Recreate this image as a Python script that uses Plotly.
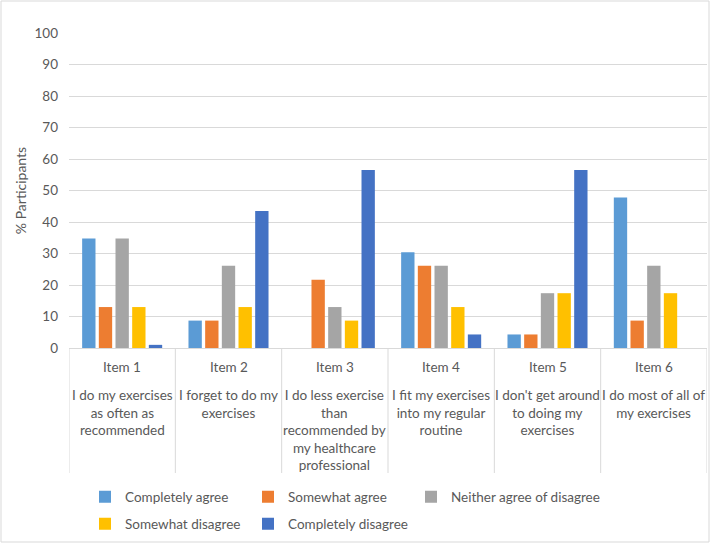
import plotly.graph_objects as go

# data (% participants)
items = ["Item 1", "Item 2", "Item 3", "Item 4", "Item 5", "Item 6"]
descriptions = [
    "I do my exercises<br>as often as<br>recommended",
    "I forget to do my<br>exercises",
    "I do less exercise<br>than<br>recommended by<br>my healthcare<br>professional",
    "I fit my exercises<br>into my regular<br>routine",
    "I don't get around<br>to doing my<br>exercises",
    "I do most of all of<br>my exercises",
]

completely_agree = [34.8, 8.7, 0, 30.4, 4.3, 47.8]
somewhat_agree = [13.0, 8.7, 21.7, 26.1, 4.3, 8.7]
neither = [34.8, 26.1, 13.0, 26.1, 17.4, 26.1]
somewhat_disagree = [13.0, 13.0, 8.7, 13.0, 17.4, 17.4]
completely_disagree = [1.0, 43.5, 56.5, 4.3, 56.5, 0]

series_names = ["Completely agree", "Somewhat agree", "Neither agree of disagree",
                "Somewhat disagree", "Completely disagree"]
series_values = [completely_agree, somewhat_agree, neither,
                 somewhat_disagree, completely_disagree]
colors = ["#5B9BD5", "#ED7D31", "#A5A5A5", "#FFC000", "#4472C4"]

W, H = 712, 546
L, R, T, B = 69, 5, 33, 198
pw = W - L - R
ph = H - T - B
FONT = "Lato"
GREY = "#595959"
LINE = "#d9d9d9"


def px(p):
    return (p - L) / pw


def py(p):
    return (H - B - p) / ph


fig = go.Figure()
for i, (name, vals, col) in enumerate(zip(series_names, series_values, colors)):
    fig.add_trace(go.Bar(
        x=items, y=vals, name=name,
        marker=dict(color=col, line=dict(width=0)),
        legend="legend" if i < 3 else "legend2",
        legendwidth=190 if i == 2 else 118,
    ))

# category dividers below the axis
shapes = []
for k in range(len(items) + 1):
    shapes.append(dict(type="line", xref="x", yref="paper",
                       x0=k - 0.5, x1=k - 0.5, y0=0, y1=py(473),
                       line=dict(color=LINE, width=1)))
# chart border
shapes.append(dict(type="rect", xref="paper", yref="paper",
                   x0=px(1), x1=px(709), y0=py(542), y1=py(1),
                   line=dict(color=LINE, width=1), fillcolor="rgba(0,0,0,0)"))

annotations = []
for k, (it, desc) in enumerate(zip(items, descriptions)):
    annotations.append(dict(x=it, xref="x", y=py(367), yref="paper",
                            text=it, showarrow=False, yanchor="middle",
                            font=dict(family=FONT, size=13.5, color=GREY)))
    annotations.append(dict(x=it, xref="x", y=py(385), yref="paper",
                            text=desc, showarrow=False, yanchor="top",
                            align="center",
                            font=dict(family=FONT, size=13.5, color=GREY)))

legend_common = dict(orientation="h", xanchor="left", yanchor="middle",
                     entrywidthmode="pixels",
                     bgcolor="rgba(0,0,0,0)",
                     font=dict(family=FONT, size=13.5, color=GREY))

fig.update_layout(
    width=W, height=H,
    margin=dict(l=L, r=R, t=T, b=B, autoexpand=False),
    paper_bgcolor="white", plot_bgcolor="white",
    barmode="group", bargap=0.216, bargroupgap=0.2,
    font=dict(family=FONT, size=13.5, color=GREY),
    shapes=shapes, annotations=annotations,
    legend=dict(x=px(85), y=py(497), **legend_common),
    legend2=dict(x=px(85), y=py(524), **legend_common),
    xaxis=dict(range=[-0.5, len(items) - 0.5], showticklabels=False,
               showgrid=False, showline=True, linecolor=LINE, linewidth=1,
               zeroline=False, fixedrange=True),
    yaxis=dict(range=[0, 100], dtick=10, showgrid=True, gridcolor=LINE,
               gridwidth=1, zeroline=False, showline=False,
               ticklabelstandoff=10,
               tickfont=dict(family=FONT, size=13.5, color=GREY),
               title=dict(text="% Participants", standoff=4,
                          font=dict(family=FONT, size=14, color=GREY))),
)

# drop the browser's default body margin so the figure sits at the page corner
fig.write_html("out.html", config={"displayModeBar": False},
               post_script="document.body.style.margin='0';")
